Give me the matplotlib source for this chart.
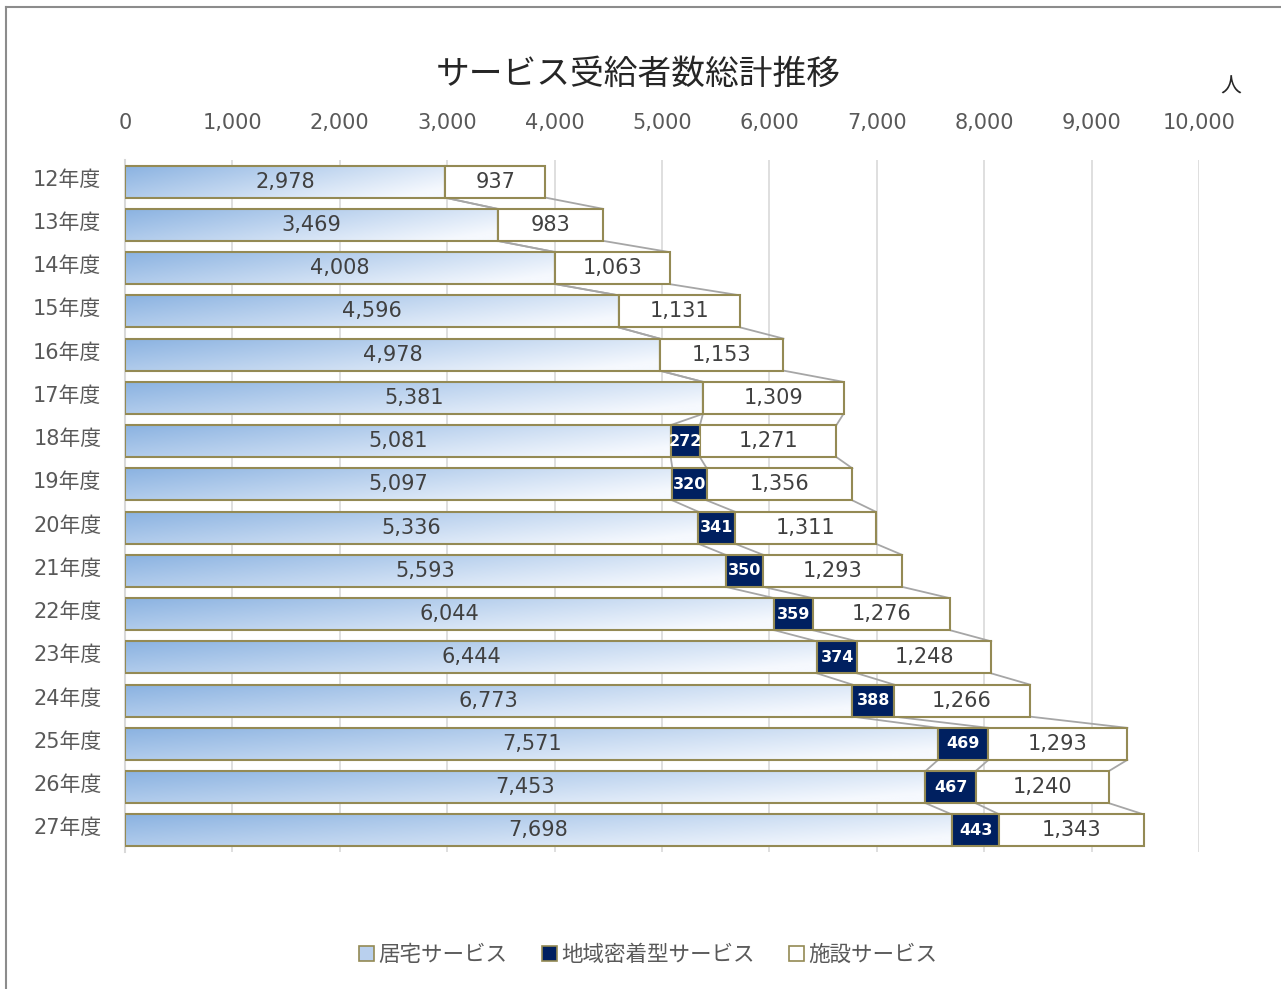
import numpy as np
import matplotlib.pyplot as plt
from matplotlib.lines import Line2D
from matplotlib.patches import Rectangle
from matplotlib.transforms import ScaledTranslation

# DejaVu first so digits look like the original (Verdana-like), CJK falls back
plt.rcParams['font.family'] = ['DejaVu Sans', 'Noto Sans CJK JP']

years = ['12年度', '13年度', '14年度', '15年度', '16年度', '17年度', '18年度', '19年度',
         '20年度', '21年度', '22年度', '23年度', '24年度', '25年度', '26年度', '27年度']
kyotaku = [2978, 3469, 4008, 4596, 4978, 5381, 5081, 5097, 5336, 5593, 6044, 6444, 6773, 7571, 7453, 7698]
chiiki = [0, 0, 0, 0, 0, 0, 272, 320, 341, 350, 359, 374, 388, 469, 467, 443]
shisetsu = [937, 983, 1063, 1131, 1153, 1309, 1271, 1356, 1311, 1293, 1276, 1248, 1266, 1293, 1240, 1343]
series_names = ['居宅サービス', '地域密着型サービス', '施設サービス']
xticks = list(range(0, 10001, 1000))

edge = '#948A54'
navy = '#002060'
txt = '#404040'
bar_h = 0.74
cjk = ['Noto Sans CJK JP', 'DejaVu Sans']

fig = plt.figure(figsize=(12.81, 9.89), dpi=100)
ax = fig.add_axes([125 / 1281, 1 - 852 / 989, 1074 / 1281, 692 / 989])

# gradient for the 居宅 bars
c0 = np.array([138, 178, 225]) / 255
c1 = np.array([246, 249, 254]) / 255
gx, gy = np.meshgrid(np.linspace(0, 1, 200), np.linspace(0, 1, 20))
t = np.clip(0.75 * gx + 0.35 * gy, 0, 1)[..., None]
grad = c0 * (1 - t) + c1 * t

y = np.arange(len(years))
k = np.array(kyotaku)
c = np.array(chiiki)
s = np.array(shisetsu)

for i in range(len(years)):
    top, bot = i - bar_h / 2, i + bar_h / 2
    ax.imshow(grad, extent=(0, k[i], bot, top), aspect='auto', zorder=2, interpolation='bilinear')
ax.barh(y, k, height=bar_h, color='none', edgecolor=edge, linewidth=1.5, zorder=3)
ax.barh(y, c, left=k, height=bar_h, color=navy, edgecolor=edge, linewidth=1.5, zorder=3)
ax.barh(y, s, left=k + c, height=bar_h, color='white', edgecolor=edge, linewidth=1.5, zorder=3)

# series lines between rows
bounds = [k, k + c, k + c + s]
for b in bounds:
    for i in range(len(years) - 1):
        ax.plot([b[i], b[i + 1]], [i + bar_h / 2, i + 1 - bar_h / 2], color='#A6A6A6',
                lw=1.3, zorder=1)

for i in range(len(years)):
    ax.text(k[i] / 2, i, f'{k[i]:,}', ha='center', va='center', fontsize=15, color=txt, zorder=4)
    if c[i] > 0:
        ax.text(k[i] + c[i] / 2, i, f'{c[i]:,}', ha='center', va='center', fontsize=11.5,
                color='white', fontweight='bold', zorder=4)
    ax.text(k[i] + c[i] + s[i] / 2, i, f'{s[i]:,}', ha='center', va='center', fontsize=15,
            color=txt, zorder=4)

ax.set_xlim(0, 10000)
ax.set_ylim(len(years) - 0.5, -0.5)
ax.set_xticks(xticks)
ax.set_xticklabels([f'{v:,}' for v in xticks])
ax.xaxis.tick_top()
ax.tick_params(axis='x', length=0, pad=19.5, labelsize=15, labelcolor='#595959')
ax.set_yticks(y)
ax.set_yticklabels(years)
ax.tick_params(axis='y', length=0, pad=17, labelsize=15, labelcolor='#595959')
shift = ScaledTranslation(0, 4 / 100, fig.dpi_scale_trans)
for lab in ax.get_yticklabels():
    lab.set_transform(lab.get_transform() + shift)
ax.grid(axis='x', color='#D9D9D9', lw=1.2, zorder=0)
ax.set_axisbelow(True)
for sp in ['top', 'right', 'bottom']:
    ax.spines[sp].set_visible(False)
ax.spines['left'].set_color('#D9D9D9')
ax.spines['left'].set_linewidth(1.5)

fig.text(638 / 1281, 1 - 74 / 989, 'サービス受給者数総計推移', ha='center', va='center',
         fontsize=24.3, color='#262626', family=cjk)
fig.text(1231 / 1281, 1 - 87 / 989, '人', ha='center', va='center', fontsize=15,
         color='#262626', family=cjk)

handles = [Rectangle((0, 0), 1, 1, facecolor='#B9D0EE', edgecolor=edge, lw=1.2),
           Rectangle((0, 0), 1, 1, facecolor=navy, edgecolor=edge, lw=1.2),
           Rectangle((0, 0), 1, 1, facecolor='white', edgecolor=edge, lw=1.2)]
fig.legend(handles, series_names, loc='center', bbox_to_anchor=(648 / 1281, 1 - 955 / 989),
           ncol=3, frameon=False, prop={'family': cjk, 'size': 15.5}, handlelength=0.7,
           handleheight=0.7, handletextpad=0.2, columnspacing=1.6, labelcolor='#595959')

# outer frame (top and left visible)
fig.add_artist(Line2D([6 / 1281, 1], [1 - 7 / 989, 1 - 7 / 989], color='#8C8C8C', lw=1.5))
fig.add_artist(Line2D([6 / 1281, 6 / 1281], [0, 1 - 7 / 989], color='#8C8C8C', lw=1.5))

fig.savefig('out.png', dpi=100)
